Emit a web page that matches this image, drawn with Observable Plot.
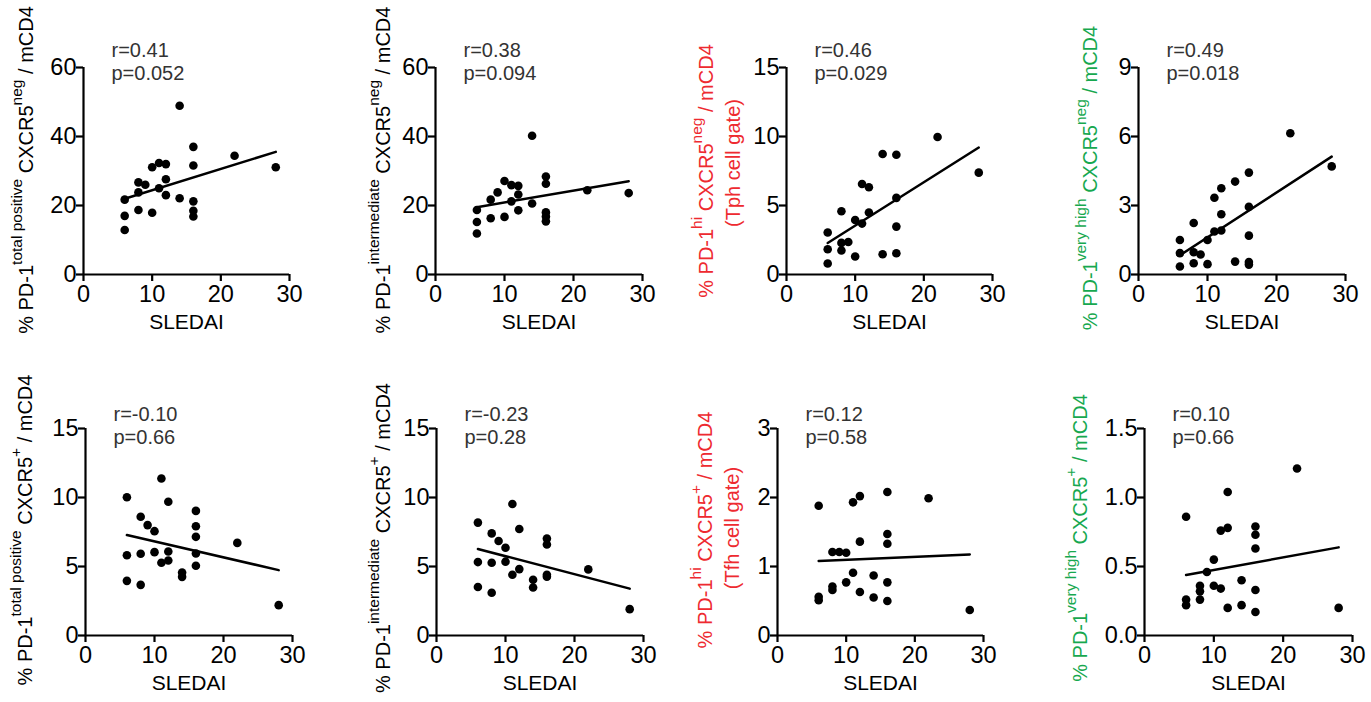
<!DOCTYPE html>
<html><head><meta charset="utf-8">
<script src="https://cdn.jsdelivr.net/npm/d3@7"></script>
<script src="https://cdn.jsdelivr.net/npm/@observablehq/plot@0.6"></script>
<style>
body{margin:0;background:#fff;}
#chart{position:relative;width:1371px;height:702px;overflow:hidden;background:#fff;}
#chart svg{position:absolute;overflow:visible;}
</style></head><body><div id="chart"></div>
<script>
// ---- data ----
const xTicks = [0, 10, 20, 30];

const p1X = [6,6,6,8,8,8,9,10,10,11,11,12,12,12,14,14,16,16,16,16,16,22,28];
const p1Y = [21.7,17.0,12.9,26.7,23.8,18.7,26.0,31.1,17.9,32.3,25.0,32.0,27.6,23.0,48.9,22.1,37.0,31.6,21.2,18.5,16.8,34.4,31.1];
const p2X = [6,6,6,8,8,9,10,10,11,11,12,12,12,14,14,16,16,16,16,16,22,28];
const p2Y = [18.7,15.2,11.9,21.7,16.3,23.8,27.1,16.7,25.9,21.2,25.7,23.2,18.6,40.2,20.6,28.4,26.3,18.0,16.8,15.4,24.4,23.6];
const p3X = [6,6,6,8,8,8,9,10,10,11,11,12,12,14,14,16,16,16,16,22,28];
const p3Y = [3.04,1.83,0.80,4.58,2.29,1.74,2.36,3.95,1.30,6.56,3.69,6.32,4.49,8.73,1.47,8.68,5.55,3.47,1.54,9.96,7.38];
const p4X = [6,6,6,8,8,8,9,10,10,11,11,12,12,12,14,14,16,16,16,16,16,22,28];
const p4Y = [1.50,0.93,0.35,2.24,0.97,0.49,0.87,1.50,0.45,3.34,1.87,3.75,2.62,1.91,4.04,0.56,4.43,2.94,1.69,0.54,0.43,6.14,4.70];
const p5X = [6,6,6,8,8,8,9,10,10,11,11,12,12,12,14,14,16,16,16,16,16,22,28];
const p5Y = [10.02,5.82,3.96,8.60,5.92,3.67,8.00,7.56,6.04,11.38,5.27,9.69,6.09,5.43,4.57,4.25,9.03,7.92,7.15,5.94,5.05,6.71,2.20];
const p6X = [6,6,6,8,8,8,9,10,10,11,11,12,12,14,14,16,16,16,16,22,28];
const p6Y = [8.18,5.32,3.51,7.40,5.27,3.10,6.85,6.36,5.35,9.53,4.40,7.72,4.81,4.04,3.48,7.02,6.60,4.40,4.26,4.79,1.91];
const p7X = [6,6,6,8,8,8,9,10,10,11,11,12,12,12,14,14,16,16,16,16,16,22,28];
const p7Y = [1.88,0.56,0.51,1.21,0.71,0.66,1.21,1.20,0.77,1.93,0.91,2.02,1.36,0.63,0.87,0.55,2.08,1.47,1.33,0.77,0.50,1.99,0.37];
const p8X = [6,6,6,8,8,8,9,10,10,11,11,12,12,12,14,14,16,16,16,16,16,22,28];
const p8Y = [0.86,0.26,0.22,0.36,0.32,0.26,0.46,0.55,0.36,0.76,0.34,1.04,0.78,0.20,0.40,0.22,0.79,0.73,0.63,0.33,0.17,1.21,0.20];

const yTicks = [[0,20,40,60],[0,20,40,60],[0,5,10,15],[0,3,6,9],[0,5,10,15],[0,5,10,15],[0,1,2,3],[0,0.5,1.0,1.5]];
const rValues = ["0.41","0.38","0.46","0.49","-0.10","-0.23","0.12","0.10"];
const pValues = ["0.052","0.094","0.029","0.018","0.66","0.28","0.58","0.66"];
const yLabels = [
  ["% PD-1","^total positive"," CXCR5","^neg"," / mCD4"],
  ["% PD-1","^intermediate"," CXCR5","^neg"," / mCD4"],
  ["% PD-1","^hi"," CXCR5","^neg"," / mCD4"],
  ["% PD-1","^very high"," CXCR5","^neg"," / mCD4"],
  ["% PD-1","^total positive"," CXCR5","^+"," / mCD4"],
  ["% PD-1","^intermediate"," CXCR5","^+"," / mCD4"],
  ["% PD-1","^hi"," CXCR5","^+"," / mCD4"],
  ["% PD-1","^very high"," CXCR5","^+"," / mCD4"]
];
const yLabels2 = [null,null,"(Tph cell gate)",null,null,null,"(Tfh cell gate)",null];
const xLabel = "SLEDAI";
const seriesX = [p1X,p2X,p3X,p4X,p5X,p6X,p7X,p8X];
const seriesY = [p1Y,p2Y,p3Y,p4Y,p5Y,p6Y,p7Y,p8Y];

// ---- layout / style ----
const RED = "#ee2a30", GREEN = "#17a84f";
const labelColor = ["#000","#000",RED,GREEN,"#000","#000",RED,GREEN];
const layout = [
  {ox:0,    oy:0,   w:340, h:340, ml:83,  mt:67, pw:206, lx:33,   ly:170, lx2:null, ly2:null, rdy:12},
  {ox:340,  oy:0,   w:340, h:340, ml:95,  mt:67, pw:207, lx:390,  ly:170, lx2:null, ly2:null, rdy:12},
  {ox:680,  oy:0,   w:340, h:340, ml:106, mt:67, pw:206, lx:713,  ly:171, lx2:740,  ly2:163,  rdy:12},
  {ox:1020, oy:0,   w:351, h:340, ml:118, mt:67, pw:207, lx:1097, ly:178, lx2:null, ly2:null, rdy:12},
  {ox:0,    oy:360, w:340, h:342, ml:85,  mt:68, pw:207, lx:32,   ly:530, lx2:null, ly2:null, rdy:15},
  {ox:340,  oy:360, w:340, h:342, ml:96,  mt:68, pw:207, lx:390,  ly:538, lx2:null, ly2:null, rdy:15},
  {ox:680,  oy:360, w:340, h:342, ml:97,  mt:68, pw:206, lx:712,  ly:530, lx2:739,  ly2:528,  rdy:15},
  {ox:1020, oy:360, w:351, h:342, ml:124, mt:68, pw:208, lx:1087, ly:538, lx2:null, ly2:null, rdy:15}
];
const FONT = "Arial, 'Liberation Sans', Helvetica, sans-serif";

const chart = document.getElementById("chart");

seriesX.forEach((xs, i) => {
  const ys = seriesY[i];
  const L = layout[i];
  const data = xs.map((x, j) => ({x, y: ys[j]}));
  const ticks = yTicks[i];
  const yMax = ticks[ticks.length - 1];
  const fmt = i === 7 ? d3.format(".1f") : d3.format("d");
  const svg = Plot.plot({
    width: L.w,
    height: L.h,
    marginLeft: L.ml,
    marginTop: L.mt,
    marginRight: L.w - L.ml - L.pw,
    marginBottom: L.h - L.mt - 207,
    style: {fontFamily: FONT, fontSize: "23px", color: "#000", background: "transparent", overflow: "visible"},
    x: {domain: [0, 30]},
    y: {domain: [0, yMax]},
    marks: [
      Plot.axisX({ticks: xTicks, tickSize: 7, tickPadding: 4, strokeWidth: 2.2, fontSize: 23.5, label: null, tickFormat: d3.format("d")}),
      Plot.axisY({ticks: ticks, tickSize: 7, tickPadding: 0, strokeWidth: 2.2, fontSize: 23.5, label: null, tickFormat: fmt}),
      Plot.ruleX([0], {strokeWidth: 2.2, stroke: "#000"}),
      Plot.ruleY([0], {strokeWidth: 2.2, stroke: "#000"}),
      Plot.linearRegressionY(data, {x: "x", y: "y", ci: 0, stroke: "#000", strokeWidth: 2.5}),
      Plot.dot(data, {x: "x", y: "y", r: 4.3, fill: "#000", stroke: null}),
      Plot.text([`r=${rValues[i]}\np=${pValues[i]}`], {frameAnchor: "top-left", textAnchor: "start", lineAnchor: "bottom", dx: 28, dy: L.rdy, lineHeight: 1.12, fontSize: 20, fill: "#333"}),
      Plot.text([xLabel], {frameAnchor: "bottom", lineAnchor: "bottom", dy: 54, fontSize: 21, fill: "#000"})
    ]
  });
  svg.style.left = L.ox + "px";
  svg.style.top = L.oy + "px";
  const s = d3.select(svg);
  const t = s.append("text")
    .attr("transform", `translate(${L.lx - L.ox},${L.ly - L.oy}) rotate(-90)`)
    .attr("text-anchor", "middle")
    .attr("fill", labelColor[i])
    .style("font-family", FONT)
    .style("font-size", "20px")
    .style("white-space", "pre");
  let raised = false;
  yLabels[i].forEach(part => {
    const sup = part.startsWith("^");
    const ts = t.append("tspan").text(sup ? part.slice(1) : part);
    if (sup) { ts.attr("dy", -11).style("font-size", "15.5px"); raised = true; }
    else if (raised) { ts.attr("dy", 11); raised = false; }
  });
  if (yLabels2[i]) {
    s.append("text")
      .attr("transform", `translate(${L.lx2 - L.ox},${L.ly2 - L.oy}) rotate(-90)`)
      .attr("text-anchor", "middle")
      .attr("fill", labelColor[i])
      .style("font-family", FONT)
      .style("font-size", "20px")
      .text(yLabels2[i]);
  }
  chart.appendChild(svg);
});
</script></body></html>
